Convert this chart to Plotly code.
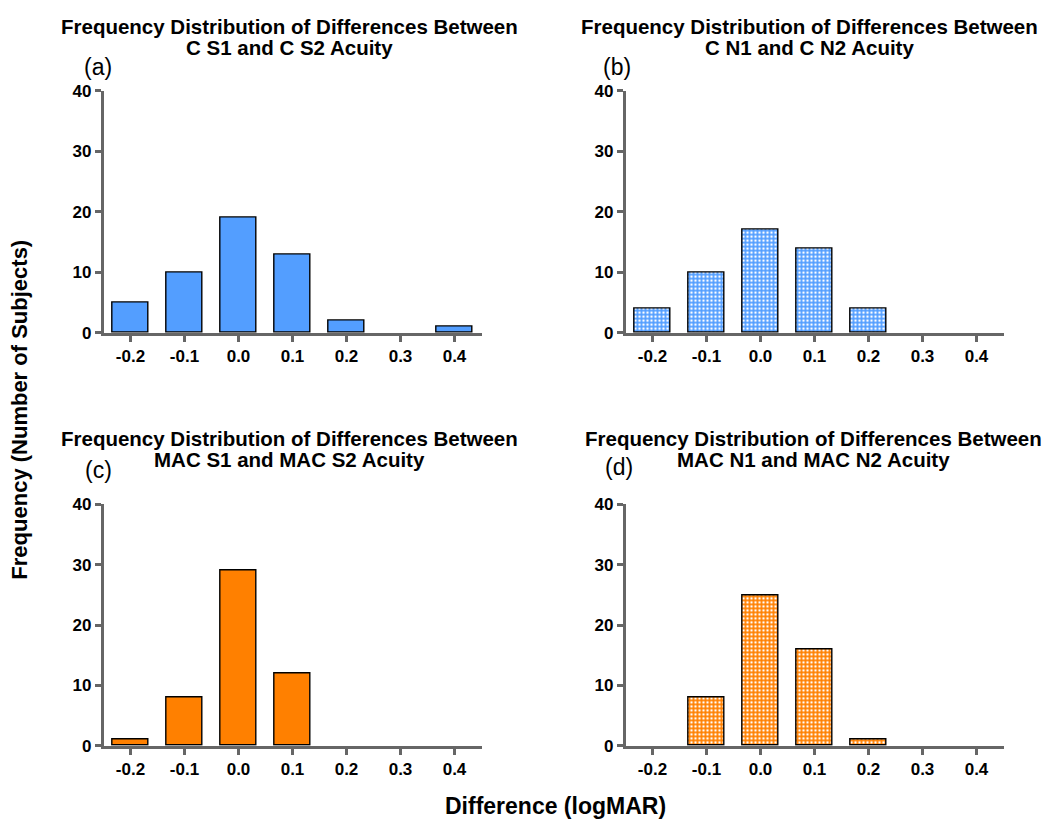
import plotly.graph_objects as go

W, H = 1046, 832

# ---------------- data ----------------
diff_bins = [-0.2, -0.1, 0.0, 0.1, 0.2, 0.3, 0.4]
tick_labels = ["-0.2", "-0.1", "0.0", "0.1", "0.2", "0.3", "0.4"]
y_ticks = [0, 10, 20, 30, 40]

counts_c_s = [5, 10, 19, 13, 2, 0, 1]      # (a) C S1 vs C S2
counts_c_n = [4, 10, 17, 14, 4, 0, 0]      # (b) C N1 vs C N2
counts_mac_s = [1, 8, 29, 12, 0, 0, 0]     # (c) MAC S1 vs MAC S2
counts_mac_n = [0, 8, 25, 16, 1, 0, 0]     # (d) MAC N1 vs MAC N2

title_line1 = "Frequency Distribution of Differences Between"
title_line2 = ["C S1 and C S2 Acuity", "C N1 and C N2 Acuity",
               "MAC S1 and MAC S2 Acuity", "MAC N1 and MAC N2 Acuity"]
panel_labels = ["(a)", "(b)", "(c)", "(d)"]

BLUE = "#539EFF"
ORANGE = "#FF8000"
FONT = "Arial, Liberation Sans, sans-serif"
AXIS_GRAY = "#666666"


def px(x):
    return x / W


def py(y):
    return 1 - y / H


fig = go.Figure()

panels = [
    dict(counts=counts_c_s, color=BLUE, pattern=False, xd=(103.5, 481.5), yd=(83.5, 331.5)),
    dict(counts=counts_c_n, color=BLUE, pattern=True, xd=(625.5, 1003.5), yd=(83.5, 331.5)),
    dict(counts=counts_mac_s, color=ORANGE, pattern=False, xd=(103.5, 481.5), yd=(507, 754)),
    dict(counts=counts_mac_n, color=ORANGE, pattern=True, xd=(625.5, 1003.5), yd=(507, 754)),
]

layout_axes = {}
for i, p in enumerate(panels):
    n = "" if i == 0 else str(i + 1)
    # empty bins draw nothing (no outline)
    line_w = [1.4 if c > 0 else 0 for c in p["counts"]]
    marker = dict(color=p["color"], line=dict(color="black", width=line_w))
    if p["pattern"]:
        marker["pattern"] = dict(shape=".", fgcolor="white", bgcolor=p["color"],
                                 size=4, solidity=0.3, fillmode="replace")
    fig.add_trace(go.Bar(x=diff_bins, y=p["counts"], width=0.065, marker=marker,
                         xaxis="x" + n, yaxis="y" + n, showlegend=False,
                         hoverinfo="x+y"))
    layout_axes["xaxis" + n] = dict(
        domain=[px(p["xd"][0]), px(p["xd"][1])], anchor="y" + n,
        range=[-0.25, 0.45], tickvals=diff_bins, ticktext=tick_labels,
        showline=True, linecolor=AXIS_GRAY, linewidth=2.5, ticks="outside",
        ticklen=6, tickwidth=2.5, tickcolor=AXIS_GRAY, showgrid=False, zeroline=False,
        tickfont=dict(family=FONT, size=17, color="black", weight="bold"),
        fixedrange=True,
    )
    layout_axes["yaxis" + n] = dict(
        domain=[py(p["yd"][1]), py(p["yd"][0])], anchor="x" + n,
        range=[0, 40], tickvals=y_ticks,
        showline=True, linecolor=AXIS_GRAY, linewidth=2.5, ticks="outside",
        ticklen=6, tickwidth=2.5, tickcolor=AXIS_GRAY, showgrid=False, zeroline=False,
        tickfont=dict(family=FONT, size=17, color="black", weight="bold"),
        fixedrange=True,
    )

annotations = []
title_pos = [(289, 17.5, 39.5), (809, 17.5, 39.5), (289, 440, 461), (813, 440, 461)]
label_pos = [(98, 59), (617, 59), (98, 472), (619, 469)]
for i in range(4):
    tx, y1, y2 = title_pos[i]
    annotations.append(dict(text=title_line1, x=px(tx), y=py(y1), xref="paper", yref="paper",
                            showarrow=False, xanchor="center", yanchor="middle",
                            font=dict(family=FONT, size=20.5, color="black", weight="bold")))
    annotations.append(dict(text=title_line2[i], x=px(tx), y=py(y2), xref="paper", yref="paper",
                            showarrow=False, xanchor="center", yanchor="middle",
                            font=dict(family=FONT, size=20.5, color="black", weight="bold")))
    lx, ly = label_pos[i]
    annotations.append(dict(text=panel_labels[i], x=px(lx), y=py(ly), xref="paper", yref="paper",
                            showarrow=False, xanchor="center", yanchor="middle",
                            font=dict(family=FONT, size=23, color="black")))

annotations.append(dict(text="Frequency (Number of Subjects)", x=px(20), y=py(410),
                        xref="paper", yref="paper", showarrow=False, textangle=-90,
                        xanchor="center", yanchor="middle",
                        font=dict(family=FONT, size=22, color="black", weight="bold")))
annotations.append(dict(text="Difference (logMAR)", x=px(555), y=py(816),
                        xref="paper", yref="paper", showarrow=False,
                        xanchor="center", yanchor="middle",
                        font=dict(family=FONT, size=23, color="black", weight="bold")))

fig.update_layout(
    width=W, height=H, margin=dict(l=0, r=0, t=0, b=0),
    paper_bgcolor="white", plot_bgcolor="white",
    bargap=0, annotations=annotations, **layout_axes,
)

fig.write_html("out.html")
